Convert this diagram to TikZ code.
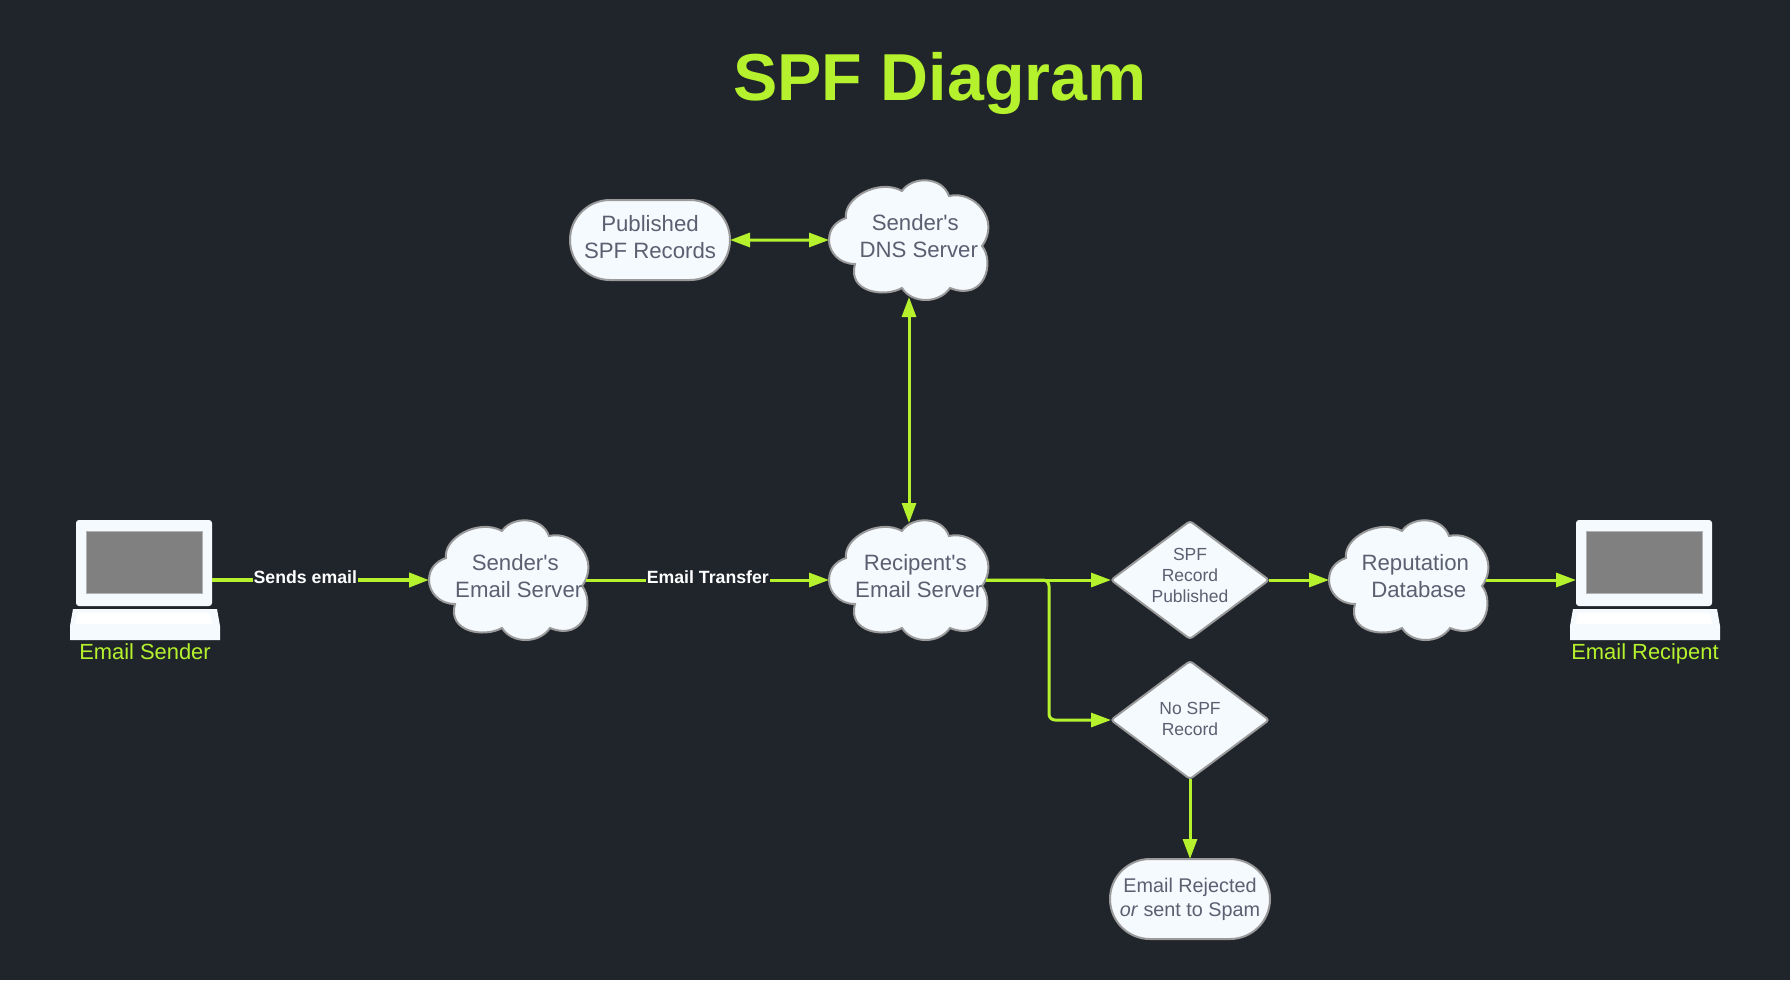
\documentclass[tikz,border=0pt]{standalone}
\usepackage{fontspec}
\setmainfont{Liberation Sans}[Ligatures=TeXOff]
\usetikzlibrary{arrows.meta,calc,positioning,shapes.geometric,shapes.misc}
\definecolor{pagebg}{RGB}{32,37,43}
\definecolor{lime}{RGB}{181,242,45}
\definecolor{shapefill}{RGB}{245,250,255}
\definecolor{shapeline}{RGB}{154,154,154}
\definecolor{shapetext}{RGB}{90,96,112}
\tikzset{
 cloudline/.style={draw=shapeline,fill=shapefill,line width=2pt},
 cloudbox/.style={rectangle,minimum width=160pt,minimum height=120pt,inner sep=0pt,outer sep=0pt},
 cloudtext/.style={align=center,text=shapetext,inner sep=0pt,font=\fontsize{22.2}{27}\selectfont},
 pillbox/.style={rounded rectangle,draw=shapeline,fill=shapefill,line width=2pt,minimum width=160pt,minimum height=80pt,inner sep=0pt,outer sep=0pt},
 pilltext/.style={align=center,text=shapetext,inner sep=0pt},
 diamondbox/.style={diamond,aspect=1.34,draw=shapeline,fill=shapefill,line width=2pt,rounded corners=3pt,minimum width=158pt,minimum height=118pt,inner sep=0pt,outer sep=0pt},
 diamondtext/.style={align=center,text=shapetext,inner sep=0pt,font=\fontsize{17.5}{21}\selectfont},
 lapshell/.style={rectangle,fill=shapefill,rounded corners=3pt,minimum width=136pt,minimum height=86pt,inner sep=0pt,outer sep=0pt},
 lapscreen/.style={rectangle,fill=gray,draw=gray!60,line width=.8pt,minimum width=116pt,minimum height=62pt,inner sep=0pt},
 lapcaption/.style={anchor=base,text=lime,inner sep=0pt,font=\fontsize{21.9}{26}\selectfont},
 flow/.style={->,lime,line width=3pt},
 edgetag/.style={fill=pagebg,text=white,inner sep=1pt,font=\fontsize{17.7}{21}\selectfont\bfseries}
}
\newcommand{\cloudnode}[4]{
\draw[cloudline,shift={#2}] (-80,0) .. controls (-80,-12) and (-72,-19) .. (-63,-22)
 .. controls (-66,-42) and (-30,-62) .. (-7,-49)
 .. controls (3,-64) and (33,-64) .. (40,-44)
 .. controls (65,-50) and (92,-20) .. (73,6)
 .. controls (86,22) and (76,62) .. (41,48)
 .. controls (30,64) and (3,64) .. (-7,48)
 .. controls (-25,58) and (-62,52) .. (-54,24)
 .. controls (-70,24) and (-80,12) .. (-80,0) -- cycle;
\node[cloudbox] (#1) at #2 {};
\node[cloudtext,xshift=8pt,yshift=4pt] (#1text) at (#1) {#3\hspace*{3.5pt}\\\hspace*{3.5pt}#4};
}
\newcommand{\laptopnode}[2]{
\node[lapshell] (#1) at (#2,563) {};
\node[lapscreen,yshift=1pt] (#1screen) at (#1) {};
\fill[shapefill,shift={(#2,563)}] (-71,46) -- (73,46) -- (76,63) -- (76,77) -- (-74,77) -- (-74,63) -- cycle;
\fill[white,shift={(#2,563)}] (-66,50) -- (65,50) -- (69,61) -- (-69,61) -- cycle;
}
\begin{document}
\begin{tikzpicture}[x=1pt,y=-1pt,>={Triangle[length=20pt,width=14pt]}]
\fill[pagebg] (0,0) rectangle (1790,980);
\useasboundingbox (0,0) rectangle (1790,980);
\node[text=lime,inner sep=0pt,font=\fontsize{66.4}{70}\selectfont\bfseries] (title) at (940,83.5) {SPF Diagram};
\laptopnode{sender}{144}
\laptopnode{recipient}{1644}
\node[lapcaption] (sendercap) at (145,659) {Email Sender};
\node[lapcaption] (recipientcap) at (1645,659) {Email Recipent};
\cloudnode{mailout}{(509,580)}{Sender's}{Email Server}
\cloudnode{mailin}{(909,580)}{Recipent's}{Email Server}
\cloudnode{dns}{(909,240)}{Sender's}{DNS Server}
\cloudnode{reputation}{(1409,580)}{Reputation}{Database}
\node[pillbox,left=99pt of dns] (records) {};
\node[pilltext,yshift=2.5pt,font=\fontsize{22.2}{27}\selectfont] (recordstext) at (records) {Published\\SPF Records};
\node[diamondbox] (published) at (1190,580) {};
\node[diamondtext,yshift=4.5pt] (publishedtext) at (published) {SPF\\Record\\Published};
\node[diamondbox] (nospf) at (1190,720) {};
\node[diamondtext,yshift=1pt] (nospftext) at (nospf) {No SPF\\Record};
\node[pillbox,below=80pt of nospf] (rejected) {};
\node[pilltext,font=\fontsize{19.8}{24}\selectfont] (rejectedtext) at (rejected) {Email Rejected\\\textit{or} sent to Spam};
\coordinate (branch) at (1049,580);
\draw[flow,line width=4pt] (sender.east|-mailout.west)--(mailout.west) node[edgetag,pos=.43,yshift=3pt] (sendstag) {Sends email};
\draw[flow,shorten <=-3pt] (mailout.east)--(mailin.west) node[edgetag,pos=.495,yshift=3pt] (transfertag) {Email Transfer};
\draw[flow,<->] (records)--(dns.west);
\draw[flow,<->,shorten <=-3pt,shorten >=-3pt] (mailin.north)--(dns.south);
\draw[flow,shorten <=-3pt] (mailin.east)--(published.west);
\draw[flow,rounded corners=6pt,shorten <=-3pt] (mailin.east)--(branch)|-(nospf.west);
\draw[flow] (published.east)--(reputation.west);
\draw[flow,shorten <=-3pt] (reputation.east)--(recipient.west|-reputation.east);
\draw[flow] (nospf.south)--(rejected.north);
\end{tikzpicture}
\end{document}
